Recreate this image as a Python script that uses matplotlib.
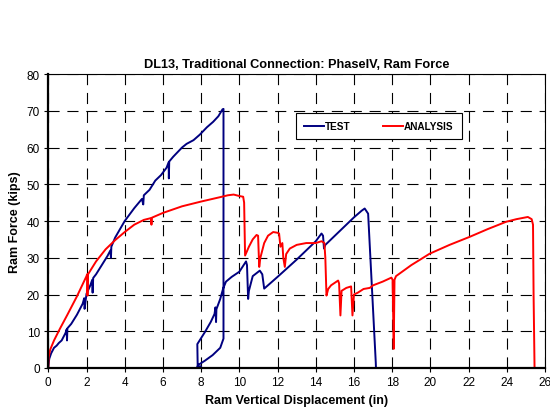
import matplotlib
matplotlib.use('Agg')
import matplotlib.pyplot as plt

plt.rcParams['font.family'] = ['Liberation Sans', 'DejaVu Sans']

# ----------------------------
# Datos
# ----------------------------
test_x = [0, 0.05, 0.15, 0.3, 0.44, 0.55, 0.7, 0.9, 0.96, 0.98, 1.0, 1.2, 1.5, 1.8,
          1.88, 1.9, 2.0, 2.2, 2.3, 2.32, 2.35, 2.5, 2.8, 3.1, 3.25, 3.28, 3.3, 3.5,
          4.0, 4.5, 4.9, 4.97, 5.0, 5.3, 5.6, 5.9, 6.19, 6.3, 6.31, 6.33, 6.54, 7.0,
          7.24, 7.6, 7.93, 8.3, 8.63, 8.9, 9.12, 9.17, 9.17, 9.0, 8.6, 8.2, 7.84,
          7.8, 8.0, 7.82, 7.8, 8.2, 8.5, 8.7, 8.75, 8.78, 8.8, 9.0, 9.15, 9.3, 9.6,
          10.0, 10.35, 10.4, 10.46, 10.5, 10.7, 11.07, 11.2, 11.3, 12.0, 13.0, 14.0,
          14.3, 14.38, 14.43, 14.5, 15.0, 15.5, 16.0, 16.4, 16.56, 16.74, 17.14, 17.15]
test_y = [0.3, 2.5, 4, 5.5, 6.1, 6.8, 7.5, 9.5, 10.5, 7.5, 10.8, 12, 14.5, 17.5,
          19, 16.1, 20.2, 22.5, 24, 20.5, 24.5, 25.5, 28, 30.5, 32, 30, 33, 35.5,
          40, 43.5, 46, 44.5, 47, 48.5, 51, 52.5, 54.5, 56, 51.6, 56.2, 57.5, 60,
          61, 62, 63.5, 65.5, 67, 68.5, 70.4, 70.5, 8, 5.5, 3.5, 2, 0.8,
          0.2, 0.4, 0.3, 6.5, 9.8, 12.5, 14.7, 16.5, 12.5, 16, 18.8, 21.6, 23.5, 24.8,
          26.2, 29, 28, 18.8, 21, 25, 26.5, 25.5, 21.6, 24.8, 29.5, 34.5,
          36.6, 36, 32.5, 33.5, 36, 38.5, 41, 42.8, 43.4, 42, 1.5, 0]

anal_x = [0, 0.02, 0.1, 0.3, 0.6, 1.0, 1.5, 2.0, 2.03, 2.05, 2.08, 2.5, 3.0, 3.5,
          4.0, 4.5, 5.0, 5.38, 5.4, 5.42, 6.0, 7.0, 8.0, 9.0, 9.4, 9.7, 10.0, 10.2,
          10.25, 10.3, 10.5, 10.7, 10.9, 10.98, 11.04, 11.1, 11.3, 11.5, 11.77, 12.0,
          12.08, 12.15, 12.25, 12.3, 12.38, 12.45, 12.64, 13.0, 13.5, 14.0, 14.3,
          14.45, 14.5, 14.56, 14.65, 14.8, 15.17, 15.22, 15.29, 15.35, 15.6, 15.85,
          15.92, 16.0, 16.2, 16.5, 16.83, 17.0, 17.5, 17.96, 18.02, 18.08, 18.12,
          18.2, 19.0, 19.96, 21.0, 22.06, 23.0, 23.97, 24.5, 25.1, 25.3, 25.37,
          25.4, 25.45]
anal_y = [0, 3, 5, 7.5, 10.6, 14.5, 19.5, 25, 25.5, 19.7, 25.5, 29, 32.3, 34.8,
          37, 39, 40.3, 40.8, 39, 40.9, 42.2, 44, 45.3, 46.5, 47, 47.2, 46.8, 46.6,
          45, 30.6, 33, 35, 36.2, 36, 27.5, 30, 34, 36, 37, 36.8,
          36.6, 33, 34, 30, 27.5, 31, 32.5, 33.5, 34, 34, 34.5,
          34, 30, 19.7, 21.5, 22.5, 23.8, 23, 14.3, 21, 21.8, 22.2,
          14.3, 20, 20.5, 21.5, 21.8, 22.5, 23.5, 24.6, 24, 5.2, 24,
          25, 28, 31.1, 33.5, 35.7, 37.8, 39.8, 40.5, 41.1, 40.5, 39,
          20, 0]

# ----------------------------
# Grafica
# ----------------------------
fig = plt.figure(figsize=(5.5, 4.14), dpi=100)
ax = fig.add_axes([0.0878, 0.1087, 0.9032, 0.7101])

ax.plot(test_x, test_y, color='#000080', lw=1.4, label='TEST')
ax.plot(anal_x, anal_y, color='#ff0000', lw=1.4, label='ANALYSIS')

ax.set_xlim(0, 26)
ax.set_ylim(0, 80)
ax.set_xticks(range(0, 27, 2))
ax.set_yticks(range(0, 81, 10))
ax.tick_params(labelsize=8.5, length=3, width=0.8, direction='out', pad=3)

ax.grid(True, color='black', linestyle=(0, (10, 7)), linewidth=0.8)
for s in ['left', 'bottom']:
    ax.spines[s].set_linewidth(1.6)
for s in ['top', 'right']:
    ax.spines[s].set_linewidth(0.8)

ax.set_title('DL13, Traditional Connection: PhaseIV, Ram Force',
             fontsize=9.2, fontweight='bold', pad=5)
ax.set_xlabel('Ram Vertical Displacement (in)', fontsize=9, fontweight='bold',
              labelpad=4)
ax.set_ylabel('Ram Force (kips)', fontsize=9, fontweight='bold', labelpad=4)

leg = ax.legend(loc='center', bbox_to_anchor=(0.665, 0.823), ncol=2,
                prop={'size': 7.2, 'weight': 'bold'}, fancybox=False,
                edgecolor='black', framealpha=1, handlelength=2.0,
                handletextpad=0.15, columnspacing=3.2, borderpad=0.8)
leg.get_frame().set_linewidth(0.8)

fig.savefig('out.png', dpi=100)
